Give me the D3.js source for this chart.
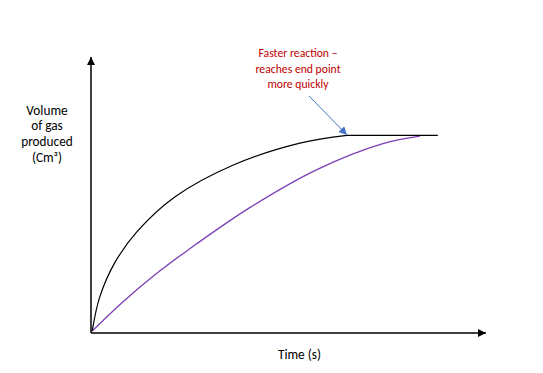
<!DOCTYPE html>
<html><head><meta charset="utf-8">
<script src="https://cdn.jsdelivr.net/npm/d3@7"></script>
<style>html,body{margin:0;padding:0;background:#fff;}svg{display:block;}</style>
</head><body>
<script>
// Data (arbitrary units: time 0..10, volume 0..10)
const fastTime   = [0.03, 0.22, 0.60, 1.17, 2.12, 3.59, 5.29, 6.48, 8.78];
const fastVolume = [0.07, 1.30, 2.54, 3.68, 4.93, 6.08, 6.88, 7.16, 7.16];
const slowTime   = [0.03, 0.77, 1.61, 2.46, 4.03, 5.72, 7.39, 8.33];
const slowVolume = [0.07, 1.08, 2.10, 3.01, 4.55, 5.92, 6.86, 7.13];
const yLabelLines = ["Volume", "of gas", "produced", "(Cm³)"];
const xLabel = "Time (s)";
const annotationLines = ["Faster reaction –", "reaches end point", "more quickly"];
const annotationPoint = [6.48, 7.16];

const W = 543, H = 373;
const svg = d3.select("body").append("svg").attr("width", W).attr("height", H);
const x = d3.scaleLinear().domain([0, 10]).range([91, 486]);
const y = d3.scaleLinear().domain([0, 10]).range([333, 57]);

const defs = svg.append("defs");
defs.append("marker").attr("id","ah").attr("viewBox","0 0 10 10").attr("refX",10).attr("refY",5)
  .attr("markerWidth",9).attr("markerHeight",8).attr("markerUnits","userSpaceOnUse").attr("orient","auto")
  .append("path").attr("d","M0,0L10,5L0,10Z").attr("fill","#000");
defs.append("marker").attr("id","bh").attr("viewBox","0 0 10 10").attr("refX",10).attr("refY",5)
  .attr("markerWidth",9).attr("markerHeight",8).attr("markerUnits","userSpaceOnUse").attr("orient","auto")
  .append("path").attr("d","M0,0L10,5L0,10Z").attr("fill","#4472C4");

// axes
svg.append("line").attr("x1", x(0)).attr("y1", y(0)).attr("x2", x(0)).attr("y2", y(10))
  .attr("stroke","#000").attr("stroke-width",1.5).attr("marker-end","url(#ah)");
svg.append("line").attr("x1", x(0)).attr("y1", y(0)).attr("x2", x(10)).attr("y2", y(0))
  .attr("stroke","#000").attr("stroke-width",1.5).attr("marker-end","url(#ah)");

const curve = d3.line().x(d => x(d[0])).y(d => y(d[1])).curve(d3.curveCatmullRom.alpha(0.5));
const straight = d3.line().x(d => x(d[0])).y(d => y(d[1]));
const slowPts = slowTime.map((t,i)=>[t, slowVolume[i]]);
const fastPts = fastTime.map((t,i)=>[t, fastVolume[i]]);
svg.append("path").datum(slowPts).attr("d", curve)
  .attr("fill","none").attr("stroke","#7B3FB5").attr("stroke-width",1.3);
// rising part of the fast curve, then its flat end-point plateau
svg.append("path").datum(fastPts.slice(0, -1)).attr("d", curve)
  .attr("fill","none").attr("stroke","#000").attr("stroke-width",1.2);
svg.append("path").datum(fastPts.slice(-2)).attr("d", straight)
  .attr("fill","none").attr("stroke","#000").attr("stroke-width",1.2);

// annotation arrow
svg.append("line").attr("x1", 309).attr("y1", 96)
  .attr("x2", x(annotationPoint[0])).attr("y2", y(annotationPoint[1]) - 0.5)
  .attr("stroke","#4472C4").attr("stroke-width",1).attr("marker-end","url(#bh)");

const font = "Carlito, 'Open Sans', 'Liberation Sans', sans-serif";
svg.append("g").selectAll("text").data(annotationLines).join("text")
  .attr("x", 298).attr("y", (d,i) => 57 + i*15.5).attr("text-anchor","middle")
  .attr("font-family", font).attr("font-size", 11.7).attr("fill","#C00000").text(d=>d);

svg.append("g").selectAll("text").data(yLabelLines).join("text")
  .attr("x", 47).attr("y", (d,i) => 114.5 + i*15.7).attr("text-anchor","middle")
  .attr("font-family", font).attr("font-size", 13.3).attr("fill","#000").text(d=>d);

svg.append("text").attr("x", 299.5).attr("y", 358.5).attr("text-anchor","middle")
  .attr("font-family", font).attr("font-size", 13.3).attr("fill","#000").text(xLabel);
</script>
</body></html>
